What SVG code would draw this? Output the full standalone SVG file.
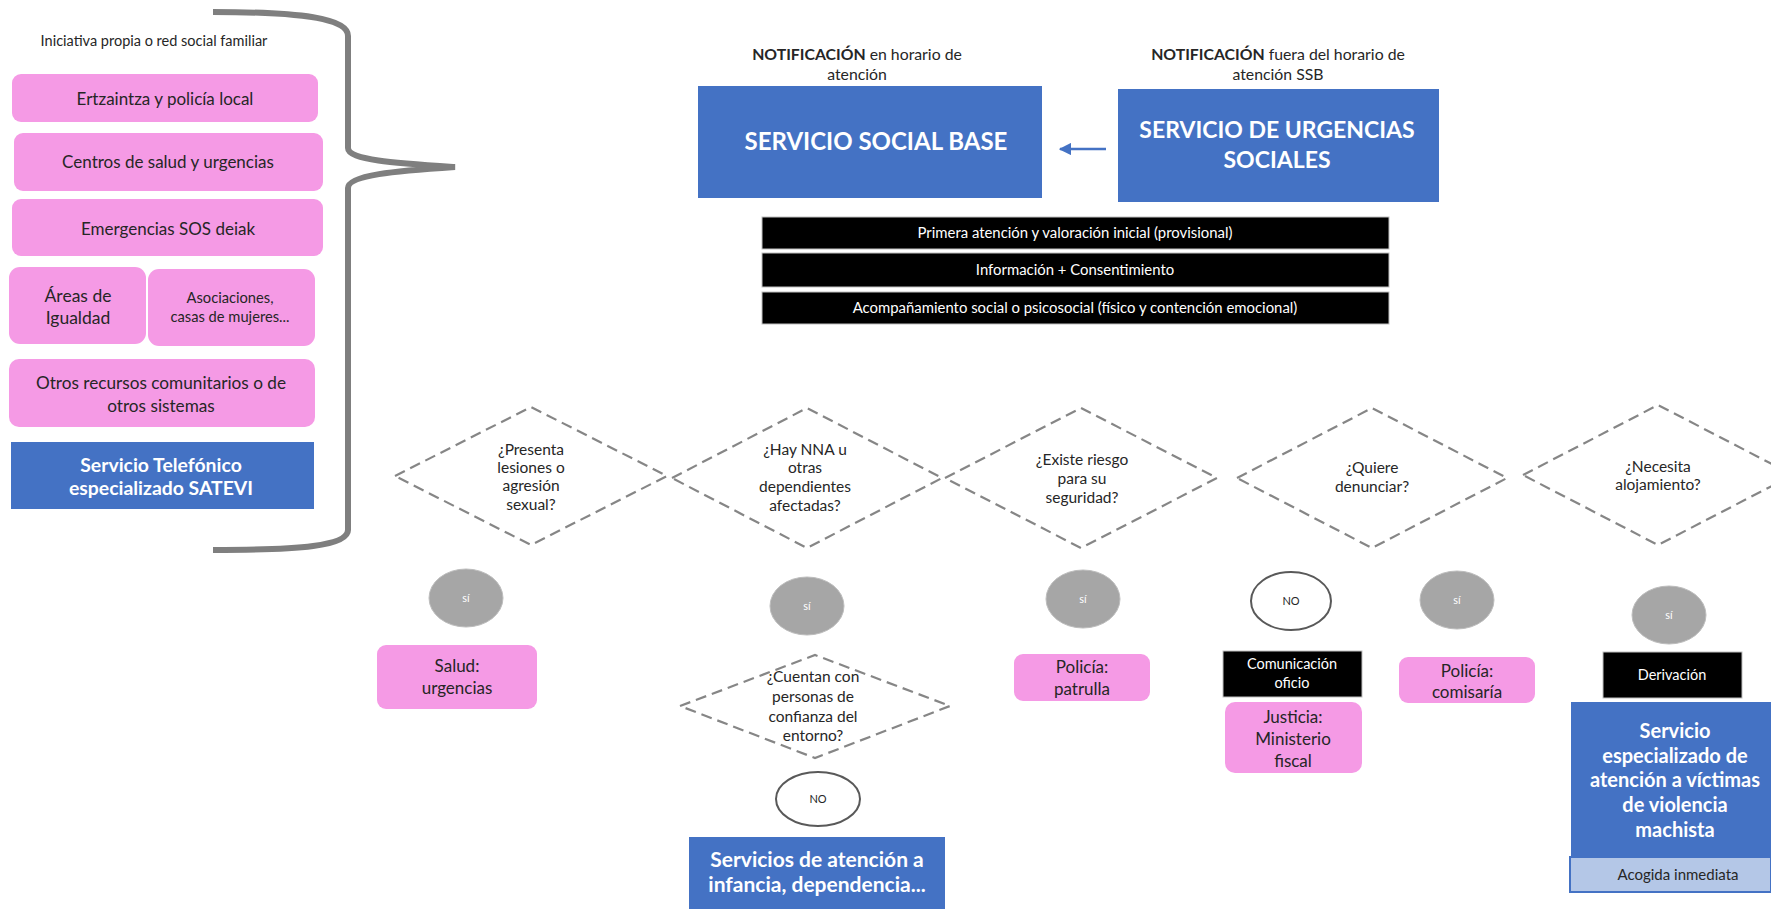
<svg xmlns="http://www.w3.org/2000/svg" width="1771" height="909" viewBox="0 0 1771 909">
<defs>
<style>
text{font-family:Lato,"Liberation Sans",sans-serif;text-anchor:middle}
.pink{fill:#F59AE5}
.blue{fill:#4472C4}
.blk{fill:#000;stroke:#BFBFBF;stroke-width:1}
.dia{fill:none;stroke:#868686;stroke-width:2.2;stroke-dasharray:11 6}
.si{fill:#A6A6A6;stroke:#BDBDBD;stroke-width:1}
.no{fill:#fff;stroke:#595959;stroke-width:2}
.t{fill:#262626}
.w{fill:#fff}
.b{font-weight:bold}
</style>
<marker id="ah" viewBox="0 0 10 10" refX="9" refY="5" markerWidth="5" markerHeight="5" orient="auto-start-reverse" markerUnits="strokeWidth">
<path d="M0,0 L10,5 L0,10 Z" fill="#4472C4"/>
</marker>
</defs>
<rect width="1771" height="909" fill="#fff"/>

<g id="connectors">
<path d="M213,12 C300,12 348,18 348,36 L348,148 C348,160 395,163 455,167 C395,171 348,175 348,188 L348,530 C348,546 300,550 213,550" fill="none" stroke="#7F7F7F" stroke-width="6"/>
<line x1="1106" y1="149" x2="1060" y2="149" stroke="#4472C4" stroke-width="2.5" marker-end="url(#ah)"/>
</g>

<g id="left-title"><text class="t" x="154" y="46" font-size="14.5">Iniciativa propia o red social familiar</text></g>
<g id="n-ertzaintza"><rect class="pink" x="12" y="74" width="306" height="48" rx="9"/><text class="t" x="165" y="105" font-size="17">Ertzaintza y policía local</text></g>
<g id="n-centros"><rect class="pink" x="14" y="133" width="309" height="58" rx="9"/><text class="t" x="168" y="168" font-size="17">Centros de salud y urgencias</text></g>
<g id="n-emergencias"><rect class="pink" x="12" y="199" width="311" height="57" rx="9"/><text class="t" x="168" y="235" font-size="17">Emergencias SOS deiak</text></g>
<g id="n-areas"><rect class="pink" x="9" y="267" width="137" height="77" rx="11"/><text class="t" font-size="17.5"><tspan x="78" y="302">Áreas de</tspan><tspan x="78" y="324">Igualdad</tspan></text></g>
<g id="n-asociaciones"><rect class="pink" x="148" y="269" width="167" height="77" rx="11"/><text class="t" font-size="14.7"><tspan x="230" y="303">Asociaciones,</tspan><tspan x="230" y="322">casas de mujeres...</tspan></text></g>
<g id="n-otros"><rect class="pink" x="9" y="359" width="306" height="68" rx="10"/><text class="t" font-size="17.2"><tspan x="161" y="389">Otros recursos comunitarios o de</tspan><tspan x="161" y="412">otros sistemas</tspan></text></g>
<g id="n-satevi"><rect class="blue" x="11" y="442" width="303" height="67"/><text class="w b" font-size="19.4"><tspan x="161" y="472">Servicio Telefónico</tspan><tspan x="161" y="495">especializado SATEVI</tspan></text></g>

<g id="lbl-notif1"><text class="t" font-size="15.8"><tspan x="857" y="60"><tspan class="b">NOTIFICACIÓN</tspan> en horario de</tspan><tspan x="857" y="80">atención</tspan></text></g>
<g id="lbl-notif2"><text class="t" font-size="15.8"><tspan x="1278" y="60"><tspan class="b">NOTIFICACIÓN</tspan> fuera del horario de</tspan><tspan x="1278" y="80">atención SSB</tspan></text></g>
<g id="n-ssb"><rect class="blue" x="698" y="86" width="344" height="112"/><text class="w b" x="876" y="150" font-size="24">SERVICIO SOCIAL BASE</text></g>
<g id="n-sus"><rect class="blue" x="1118" y="89" width="321" height="113"/><text class="w b" font-size="23"><tspan x="1277" y="138">SERVICIO DE URGENCIAS</tspan><tspan x="1277" y="168">SOCIALES</tspan></text></g>

<g id="n-primera"><rect class="blk" x="762" y="217" width="627" height="32"/><text class="w" x="1075" y="238" font-size="14.9">Primera atención y valoración inicial (provisional)</text></g>
<g id="n-info"><rect class="blk" x="762" y="253" width="627" height="34"/><text class="w" x="1075" y="275" font-size="14.9">Información + Consentimiento</text></g>
<g id="n-acomp"><rect class="blk" x="762" y="292" width="627" height="32"/><text class="w" x="1075" y="313" font-size="14.9">Acompañamiento social o psicosocial (físico y contención emocional)</text></g>

<g id="d-lesiones"><polygon class="dia" points="395,476 531,407 667,476 531,545"/><text class="t" font-size="15.5"><tspan x="531" y="455">¿Presenta</tspan><tspan x="531" y="473">lesiones o</tspan><tspan x="531" y="491">agresión</tspan><tspan x="531" y="510">sexual?</tspan></text></g>
<g id="d-nna"><polygon class="dia" points="672,478 807,408 942,478 807,548"/><text class="t" font-size="15.5"><tspan x="805" y="455">¿Hay NNA u</tspan><tspan x="805" y="473">otras</tspan><tspan x="805" y="492">dependientes</tspan><tspan x="805" y="511">afectadas?</tspan></text></g>
<g id="d-riesgo"><polygon class="dia" points="945,478 1081,408 1217,478 1081,548"/><text class="t" font-size="15.5"><tspan x="1082" y="465">¿Existe riesgo</tspan><tspan x="1082" y="484">para su</tspan><tspan x="1082" y="503">seguridad?</tspan></text></g>
<g id="d-denunciar"><polygon class="dia" points="1237,478 1372,408 1507,478 1372,548"/><text class="t" font-size="15.5"><tspan x="1372" y="473">¿Quiere</tspan><tspan x="1372" y="492">denunciar?</tspan></text></g>
<g id="d-alojamiento"><polygon class="dia" points="1523,475 1658,405 1793,475 1658,545"/><text class="t" font-size="15.5"><tspan x="1658" y="472">¿Necesita</tspan><tspan x="1658" y="490">alojamiento?</tspan></text></g>

<g id="c-si1"><ellipse class="si" cx="466" cy="598" rx="37" ry="29"/><text class="w" x="466" y="602" font-size="11">sí</text></g>
<g id="c-si2"><ellipse class="si" cx="807" cy="606" rx="37" ry="29"/><text class="w" x="807" y="610" font-size="11">sí</text></g>
<g id="c-si3"><ellipse class="si" cx="1083" cy="599" rx="37" ry="29"/><text class="w" x="1083" y="603" font-size="11">sí</text></g>
<g id="c-no1"><ellipse class="no" cx="1291" cy="601" rx="40" ry="29"/><text class="t" x="1291" y="605" font-size="11">NO</text></g>
<g id="c-si4"><ellipse class="si" cx="1457" cy="600" rx="37" ry="29"/><text class="w" x="1457" y="604" font-size="11">sí</text></g>
<g id="c-si5"><ellipse class="si" cx="1669" cy="615" rx="37" ry="29"/><text class="w" x="1669" y="619" font-size="11">sí</text></g>

<g id="n-salud"><rect class="pink" x="377" y="645" width="160" height="64" rx="9"/><text class="t" font-size="17"><tspan x="457" y="672">Salud:</tspan><tspan x="457" y="694">urgencias</tspan></text></g>
<g id="n-patrulla"><rect class="pink" x="1014" y="654" width="136" height="47" rx="9"/><text class="t" font-size="17"><tspan x="1082" y="673">Policía:</tspan><tspan x="1082" y="695">patrulla</tspan></text></g>
<g id="n-comunicacion"><rect class="blk" x="1223" y="651" width="139" height="46"/><text class="w" font-size="14.5"><tspan x="1292" y="669">Comunicación</tspan><tspan x="1292" y="688">oficio</tspan></text></g>
<g id="n-justicia"><rect class="pink" x="1225" y="702" width="137" height="71" rx="10"/><text class="t" font-size="17"><tspan x="1293" y="723">Justicia:</tspan><tspan x="1293" y="745">Ministerio</tspan><tspan x="1293" y="767">fiscal</tspan></text></g>
<g id="n-comisaria"><rect class="pink" x="1399" y="657" width="136" height="46" rx="9"/><text class="t" font-size="17"><tspan x="1467" y="677">Policía:</tspan><tspan x="1467" y="698">comisaría</tspan></text></g>
<g id="n-derivacion"><rect class="blk" x="1603" y="652" width="139" height="46"/><text class="w" x="1672" y="680" font-size="14.5">Derivación</text></g>
<g id="n-especializado"><rect class="blue" x="1571" y="702" width="200" height="190"/><text class="w b" font-size="20"><tspan x="1675" y="738">Servicio</tspan><tspan x="1675" y="763">especializado de</tspan><tspan x="1675" y="787">atención a víctimas</tspan><tspan x="1675" y="812">de violencia</tspan><tspan x="1675" y="837">machista</tspan></text></g>
<g id="n-acogida"><rect x="1570" y="857" width="201" height="35" fill="#B4C7E7" stroke="#4472C4" stroke-width="2"/><text class="t" x="1678" y="880" font-size="15">Acogida inmediata</text></g>

<g id="d-confianza"><polygon class="dia" points="680,706 815,655 950,706 815,758"/><text class="t" font-size="15.5"><tspan x="813" y="682">¿Cuentan con</tspan><tspan x="813" y="702">personas de</tspan><tspan x="813" y="722">confianza del</tspan><tspan x="813" y="741">entorno?</tspan></text></g>
<g id="c-no2"><ellipse class="no" cx="818" cy="799" rx="42" ry="27"/><text class="t" x="818" y="803" font-size="11">NO</text></g>
<g id="n-infancia"><rect class="blue" x="689" y="837" width="256" height="80"/><text class="w b" font-size="21"><tspan x="817" y="867">Servicios de atención a</tspan><tspan x="817" y="892">infancia, dependencia...</tspan></text></g>
</svg>
